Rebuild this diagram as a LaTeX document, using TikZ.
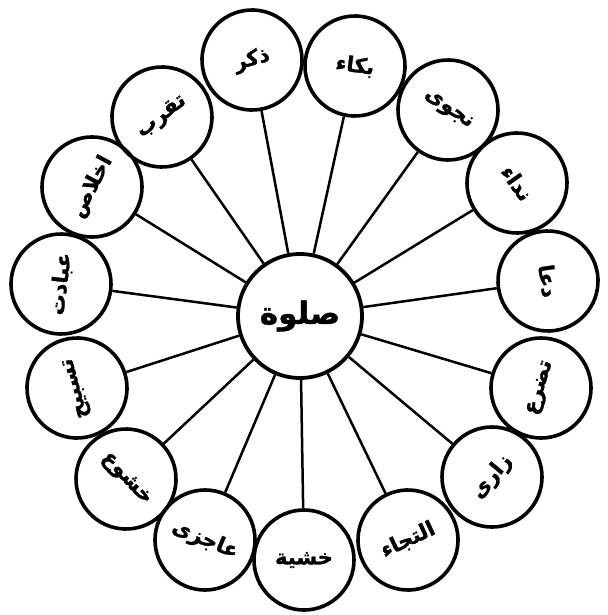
\documentclass[tikz,border=0pt]{standalone}
\usepackage{fontspec}
\TeXXeTstate=1
\newfontfamily\urdufont[Script=Arabic,BoldFont={DejaVu Sans Bold},BoldFeatures={FakeBold=1.2}]{DejaVu Sans}
\newcommand\ur[1]{{\urdufont\bfseries\beginR #1\endR}}
\tikzset{
  ring/.style={circle, draw, line width=3.6pt, minimum size=100pt, inner sep=0pt, font=\fontsize{21}{25}\selectfont},
  hub/.style={circle, draw, line width=3.8pt, minimum size=124pt, inner sep=0pt, font=\fontsize{31}{36}\selectfont},
  spoke/.style={line width=2.5pt}
}
\begin{document}
\begin{tikzpicture}[x=1pt,y=-1pt]
\useasboundingbox (0,0) rectangle (607,615);
\node[hub] (hub) at (300,316) {\ur{صلوة}};
\node[ring, rotate=15]  (n1)  at (252,60)  {\ur{ذکر}};
\node[ring, rotate=-8]  (n2)  at (355,66)  {\ur{بکاء}};
\node[ring, rotate=-35] (n3)  at (448,110) {\ur{نجوی}};
\node[ring, rotate=-55] (n4)  at (517,183) {\ur{نداء}};
\node[ring, rotate=-82] (n5)  at (548,281) {\ur{دعا}};
\node[ring, rotate=73]  (n6)  at (541,388) {\ur{تضرع}};
\node[ring, rotate=50]  (n7)  at (492,477) {\ur{زاری}};
\node[ring, rotate=25]  (n8)  at (408,540) {\ur{التجاء}};
\node[ring, rotate=0]   (n9)  at (304,560) {\ur{خشیة}};
\node[ring, rotate=-23] (n10) at (205,540) {\ur{عاجزی}};
\node[ring, rotate=-47] (n11) at (126,479) {\ur{خشوع}};
\node[ring, rotate=105] (n12) at (77,388)  {\ur{تسبیح}};
\node[ring, rotate=83]  (n13) at (61,284)  {\ur{عبادت}};
\node[ring, rotate=62]  (n14) at (92,187)  {\ur{اخلاص}};
\node[ring, rotate=38]  (n15) at (162,117) {\ur{تقرب}};
\foreach \i in {1,...,15} { \draw[spoke] (hub) -- (n\i); }
\end{tikzpicture}
\end{document}
